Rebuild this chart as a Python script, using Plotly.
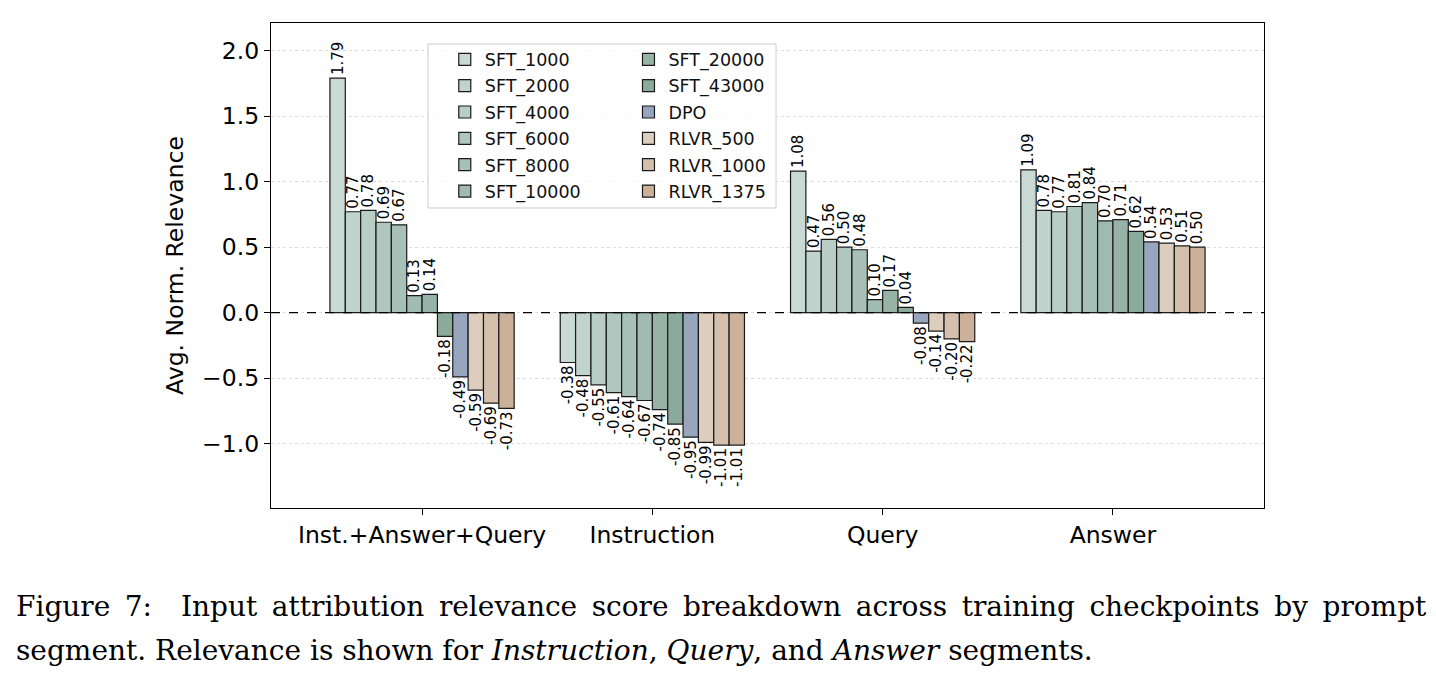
import plotly.graph_objects as go

categories = ["Inst.+Answer+Query", "Instruction", "Query", "Answer"]
series_names = ["SFT_1000", "SFT_2000", "SFT_4000", "SFT_6000", "SFT_8000", "SFT_10000",
                "SFT_20000", "SFT_43000", "DPO", "RLVR_500", "RLVR_1000", "RLVR_1375"]
# values per series: [Inst.+Answer+Query, Instruction, Query, Answer]
SFT_1000 = [1.79, -0.38, 1.08, 1.09]
SFT_2000 = [0.77, -0.48, 0.47, 0.78]
SFT_4000 = [0.78, -0.55, 0.56, 0.77]
SFT_6000 = [0.69, -0.61, 0.50, 0.81]
SFT_8000 = [0.67, -0.64, 0.48, 0.84]
SFT_10000 = [0.13, -0.67, 0.10, 0.70]
SFT_20000 = [0.14, -0.74, 0.17, 0.71]
SFT_43000 = [-0.18, -0.85, 0.04, 0.62]
DPO = [-0.49, -0.95, -0.08, 0.54]
RLVR_500 = [-0.59, -0.99, -0.14, 0.53]
RLVR_1000 = [-0.69, -1.01, -0.20, 0.51]
RLVR_1375 = [-0.73, -1.01, -0.22, 0.50]
series_values = [SFT_1000, SFT_2000, SFT_4000, SFT_6000, SFT_8000, SFT_10000,
                 SFT_20000, SFT_43000, DPO, RLVR_500, RLVR_1000, RLVR_1375]
colors = ["#c9d9d3", "#c0d3cc", "#b8cdc6", "#b0c7bf", "#a8c1b8", "#a0bbb1",
          "#97b3a8", "#8aaa9c", "#97a6bc", "#ddcdbf", "#d5c0ad", "#cbb09a"]
y_ticks = [-1.0, -0.5, 0.0, 0.5, 1.0, 1.5, 2.0]
y_ticktext = ["\u22121.0", "\u22120.5", "0.0", "0.5", "1.0", "1.5", "2.0"]

FONT = "DejaVu Sans"
fig = go.Figure()
for i, (name, vals, col) in enumerate(zip(series_names, series_values, colors)):
    fig.add_trace(go.Bar(
        x=categories, y=vals, name=name,
        marker=dict(color=col, line=dict(color="#1a1a1a", width=1.2)),
        text=[f"{v:.2f}" for v in vals], textposition="outside", textangle=-90,
        textfont=dict(family=FONT, size=15, color="black"),
        constraintext="none", cliponaxis=False,
        legend="legend" if i < 6 else "legend2",
        legendgroup=name,
    ))

fig.add_shape(type="rect", xref="paper", yref="paper",
              x0=0.1581, x1=0.5086, y0=0.6186, y1=0.9567,
              line=dict(color="#cccccc", width=1), fillcolor="rgba(255,255,255,0.8)",
              layer="above")
fig.add_shape(type="line", xref="paper", yref="y", x0=0, x1=1, y0=0, y1=0,
              line=dict(color="black", width=1.3, dash="dash"), layer="above")

legend_common = dict(font=dict(family=FONT, size=17.5, color="#111"),
                     bgcolor="rgba(0,0,0,0)", borderwidth=0, tracegroupgap=0.6,
                     xanchor="left", yanchor="top")
fig.update_layout(
    width=1436, height=681,
    margin=dict(l=271, r=172, t=23, b=173),
    paper_bgcolor="white", plot_bgcolor="white",
    barmode="group", bargap=0.2, bargroupgap=0,
    font=dict(family=FONT, size=23.5, color="black"),
    legend=dict(x=0.175, y=0.962, **legend_common),
    legend2=dict(x=0.360, y=0.962, **legend_common),
    xaxis=dict(range=[-0.656, 3.656], showline=True, mirror=True, linecolor="black",
               linewidth=1.3, ticks="outside", ticklen=6, tickwidth=1.3, tickcolor="black",
               tickfont=dict(family=FONT, size=23.5), showgrid=False),
    yaxis=dict(range=[-1.49, 2.21], tickvals=y_ticks, ticktext=y_ticktext,
               showline=True, mirror=True, linecolor="black", linewidth=1.3,
               ticks="outside", ticklen=6, tickwidth=1.3, tickcolor="black",
               tickfont=dict(family=FONT, size=23.5),
               showgrid=True, gridcolor="#dddddd", griddash="dot", gridwidth=1,
               zeroline=False,
               title=dict(text="Avg. Norm. Relevance", font=dict(family=FONT, size=23.5), standoff=11)),
)

CAP = "DejaVu Serif"
line1 = "Figure 7:  Input attribution relevance score breakdown across training checkpoints by prompt"
line1 = line1.replace(" ", " \u2009")
fig.add_annotation(xref="paper", yref="paper", x=-0.2588, y=-0.204, xanchor="left", yanchor="middle",
                   showarrow=False, align="left", text=line1,
                   font=dict(family=CAP, size=28, color="black"))
fig.add_annotation(xref="paper", yref="paper", x=-0.2588, y=-0.294, xanchor="left", yanchor="middle",
                   showarrow=False, align="left",
                   text="segment. Relevance is shown for <i>Instruction</i>, <i>Query</i>, and <i>Answer</i> segments.",
                   font=dict(family=CAP, size=28, color="black"))

fig.write_html("out.html")
